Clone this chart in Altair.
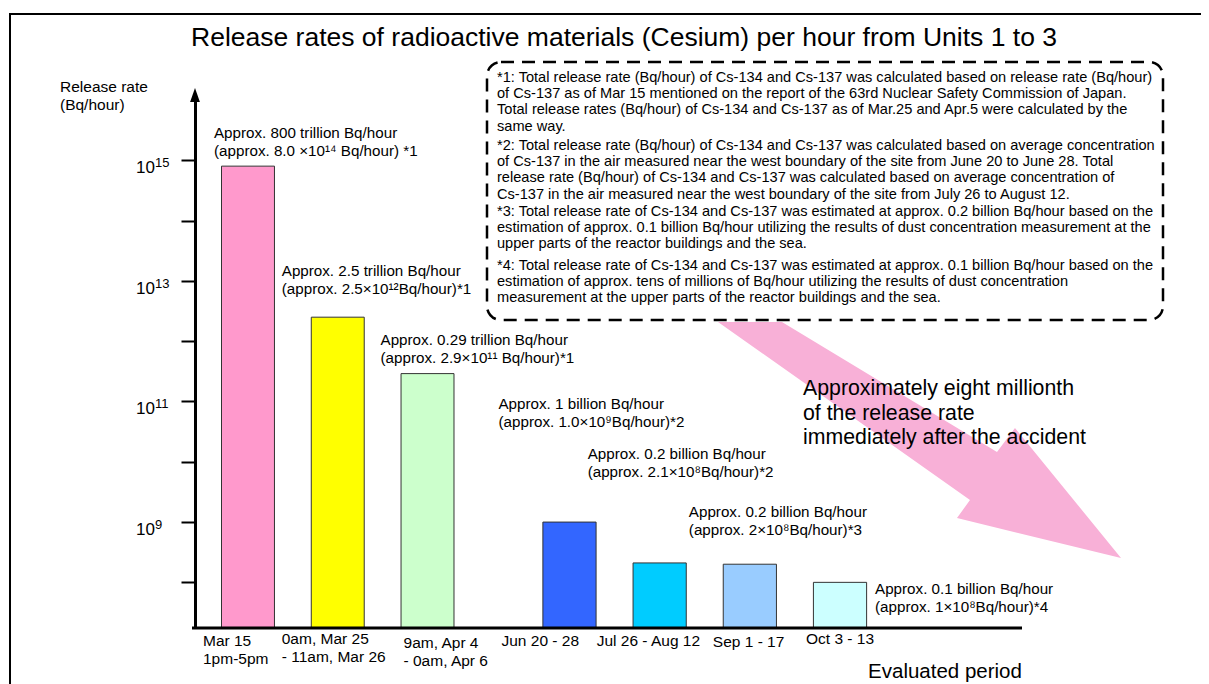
import altair as alt
import pandas as pd

# ---------------- data ----------------
periods = ["Mar 15 1pm-5pm", "0am, Mar 25 - 11am, Mar 26", "9am, Apr 4 - 0am, Apr 6",
           "Jun 20 - 28", "Jul 26 - Aug 12", "Sep 1 - 17", "Oct 3 - 13"]
period_labels = ["Mar 15\n1pm-5pm", "0am, Mar 25\n- 11am, Mar 26", "9am, Apr 4\n- 0am, Apr 6",
                 "Jun 20 - 28", "Jul 26 - Aug 12", "Sep 1 - 17", "Oct 3 - 13"]
phases = ["Mar-Apr", "Mar-Apr", "Mar-Apr", "Jun-Oct", "Jun-Oct", "Jun-Oct", "Jun-Oct"]
release_rates = [8.0e14, 2.5e12, 2.9e11, 1.0e9, 2.1e8, 2.0e8, 1.0e8]
note_line1 = ["Approx. 800 trillion Bq/hour", "Approx. 2.5 trillion Bq/hour",
              "Approx. 0.29 trillion Bq/hour", "Approx. 1 billion Bq/hour",
              "Approx. 0.2 billion Bq/hour", "Approx. 0.2 billion Bq/hour",
              "Approx. 0.1 billion Bq/hour"]
note_line2 = ["(approx. 8.0 \u00d710\u00b9\u2074 Bq/hour) *1", "(approx. 2.5\u00d710\u00b9\u00b2Bq/hour)*1",
              "(approx. 2.9\u00d710\u00b9\u00b9 Bq/hour)*1", "(approx. 1.0\u00d710\u2079Bq/hour)*2",
              "(approx. 2.1\u00d710\u2078Bq/hour)*2", "(approx. 2\u00d710\u2078Bq/hour)*3",
              "(approx. 1\u00d710\u2078Bq/hour)*4"]
bar_colors = ["#FF99CC", "#FFFF00", "#CCFFCC", "#3366FF", "#00CCFF", "#99CCFF", "#CCFFFF"]

y_ticks = [1e8, 1e9, 1e10, 1e11, 1e12, 1e13, 1e14, 1e15]
y_labeled = [1e9, 1e11, 1e13, 1e15]
y_exponents = ["9", "11", "13", "15"]
y_min, y_max = 1.75e7, 1e16

title_text = "Release rates of radioactive materials (Cesium) per hour from Units 1 to 3"
y_title = "Release rate\n(Bq/hour)"
x_title = "Evaluated period"
arrow_text = "Approximately eight millionth\nof the release rate\nimmediately after the accident"
footnotes = [
    "*1: Total release rate (Bq/hour) of Cs-134 and Cs-137 was calculated based on release rate (Bq/hour)\n"
    "of Cs-137 as of Mar 15 mentioned on the report of the 63rd Nuclear Safety Commission of Japan.\n"
    "Total release rates (Bq/hour) of Cs-134 and Cs-137 as of Mar.25 and Apr.5 were calculated by the\n"
    "same way.",
    "*2: Total release rate (Bq/hour) of Cs-134 and Cs-137 was calculated based on average concentration\n"
    "of Cs-137 in the air measured near the west boundary of the site from June 20 to June 28. Total\n"
    "release rate (Bq/hour) of Cs-134 and Cs-137 was calculated based on average concentration of\n"
    "Cs-137 in the air measured near the west boundary of the site from July 26 to August 12.",
    "*3: Total release rate of Cs-134 and Cs-137 was estimated at approx. 0.2 billion Bq/hour based on the\n"
    "estimation of approx. 0.1 billion Bq/hour utilizing the results of dust concentration measurement at the\n"
    "upper parts of the reactor buildings and the sea.",
    "*4: Total release rate of Cs-134 and Cs-137 was estimated at approx. 0.1 billion Bq/hour based on the\n"
    "estimation of approx. tens of millions of Bq/hour utilizing the results of dust concentration\n"
    "measurement at the upper parts of the reactor buildings and the sea.",
]

# ---------------- layout / style ----------------
FONT = "Liberation Sans, Arial, sans-serif"
W, H = 827, 528
PAD = {"left": 187, "top": 92, "right": 179, "bottom": 56}
# note text: left edge relative to bar centre, vertical offset of block centre from bar top
NOTE_OFFSETS = [(-34, -33), (-56, -46), (-47, -34), (-71, -118), (-72, -109), (-61, -52), (35, 7)]
# period label: left edge relative to bar centre, top relative to plot bottom
LABEL_OFFSETS = [(-45, 6), (-56, 4), (-24, 8), (-68, 6), (-63, 6), (-37, 7), (-34, 4)]
GROUP_RANGE = {"Mar-Apr": ([8.1, 277.4], 0.41), "Jun-Oct": ([329.4, 690.1], 0.41)}
FOOT_TOP = [-30, 38, 104, 158]

df = pd.DataFrame({
    "period": periods, "label": period_labels, "phase": phases, "value": release_rates,
    "note": [a + "\n" + b for a, b in zip(note_line1, note_line2)],
})
ticks_df = pd.DataFrame({"tick": y_labeled, "exp": y_exponents})
one = pd.DataFrame({"k": [0]})

yscale = alt.Scale(type="log", domain=[y_min, y_max], nice=False)
yaxis = alt.Axis(values=y_ticks, labels=False, title=None, grid=False, domainColor="black",
                 domainWidth=3, tickColor="black", tickWidth=2, tickSize=14)
color = alt.Color("period:N", scale=alt.Scale(domain=periods, range=bar_colors), legend=None)


def group(ph):
    d = df[df.phase == ph]
    rng, pin = GROUP_RANGE[ph]
    xs = alt.X("period:N", sort=list(d.period),
               scale=alt.Scale(domain=list(d.period), range=rng, paddingInner=pin, paddingOuter=pin / 2),
               axis=None)
    ys = alt.Y("value:Q", scale=yscale, axis=yaxis)
    bars = alt.Chart(d).mark_bar(stroke="#333333", strokeWidth=1).encode(
        x=xs, y=ys, y2=alt.datum(y_min), color=color)
    layers = [bars]
    for i, p in enumerate(periods):
        if phases[i] != ph:
            continue
        row = d[d.period == p]
        ldx, ldy = LABEL_OFFSETS[i]
        layers.append(alt.Chart(row).mark_text(
            align="left", baseline="top", dx=ldx, lineBreak="\n", lineHeight=18, fontSize=15.5,
            font=FONT, color="black").encode(x=xs, y=alt.value(H + ldy), text="label:N"))
        dx, dy = NOTE_OFFSETS[i]
        layers.append(alt.Chart(row).mark_text(
            align="left", baseline="middle", dx=dx, dy=dy, lineBreak="\n", lineHeight=18,
            fontSize=15.2, font=FONT, color="black").encode(x=xs, y=ys, text="note:N"))
    return alt.layer(*layers)


def txt(text, x, y, **kw):
    return alt.Chart(one).mark_text(text=text, font=FONT, color="black", **kw).encode(
        x=alt.value(x), y=alt.value(y))


frame = alt.Chart(one).mark_rect(fill="white", fillOpacity=0, stroke="black", strokeWidth=2).encode(
    x=alt.value(-185), x2=alt.value(1100), y=alt.value(-86), y2=alt.value(700))

# pink arrow polygon (page pixels), drawn as a custom symbol
arrow_pts = [(718, 322), (782, 322), (997, 452), (1015, 428), (1121, 558), (957, 518), (970, 500)]
xs_ = [p[0] for p in arrow_pts]
ys_ = [p[1] for p in arrow_pts]
cx, cy = (min(xs_) + max(xs_)) / 2, (min(ys_) + max(ys_)) / 2
R = max(max(xs_) - min(xs_), max(ys_) - min(ys_)) / 2
path = "M" + "L".join(f"{(x - cx) / R:.4f},{(y - cy) / R:.4f}" for x, y in arrow_pts) + "Z"
arrow = alt.Chart(one).mark_point(shape=path, size=(2 * R) ** 2, filled=True, fill="#F8B0D7",
                                  opacity=1, strokeWidth=0).encode(
    x=alt.value(cx - 195), y=alt.value(cy - 100))

box = alt.Chart(one).mark_rect(fill="white", stroke="black", strokeWidth=2.5, strokeDash=[13, 8],
                               cornerRadius=14).encode(
    x=alt.value(292), x2=alt.value(968), y=alt.value(-38), y2=alt.value(220))

foot_layers = [txt(t, 302, y0, align="left", baseline="top", lineBreak="\n", lineHeight=16.2,
                   fontSize=14.6) for t, y0 in zip(footnotes, FOOT_TOP)]

y_arrow = alt.Chart(one).mark_point(shape="M0,-1L0.7,1L-0.7,1Z", size=196, filled=True,
                                    fill="black", opacity=1, strokeWidth=0).encode(
    x=alt.value(0), y=alt.value(-5))

tick_base = alt.Chart(ticks_df).mark_text(text="10", align="right", baseline="alphabetic", dy=13,
                                          fontSize=17, font=FONT, color="black").encode(
    x=alt.value(-40), y=alt.Y("tick:Q", scale=yscale, axis=yaxis))
tick_exp = alt.Chart(ticks_df).mark_text(align="left", baseline="alphabetic", dy=7,
                                         fontSize=13, font=FONT, color="black").encode(
    x=alt.value(-40), y=alt.Y("tick:Q", scale=yscale, axis=yaxis), text="exp:N")

baseline = alt.Chart(one).mark_rule(color="black", strokeWidth=3).encode(
    x=alt.value(-3), x2=alt.value(W), y=alt.value(H))

chart = alt.layer(
    frame,
    arrow,
    box,
    *foot_layers,
    txt(title_text, 429, -62, align="center", baseline="middle", fontSize=26.5),
    txt(y_title, -135, -20, align="left", baseline="top", lineBreak="\n", lineHeight=17.5, fontSize=15.5),
    txt(arrow_text, 608, 278, align="left", baseline="top", lineBreak="\n", lineHeight=24.5, fontSize=21.3),
    txt(x_title, 750, 572, align="center", baseline="middle", fontSize=20.5),
    group("Mar-Apr"),
    group("Jun-Oct"),
    baseline,
    y_arrow,
    tick_base,
    tick_exp,
).resolve_scale(x="independent").properties(
    width=W, height=H, padding=PAD, autosize=alt.AutoSizeParams(type="none"), background="white"
).configure_view(stroke=None)

chart.save("out.html", embed_options={"renderer": "svg", "actions": False})
